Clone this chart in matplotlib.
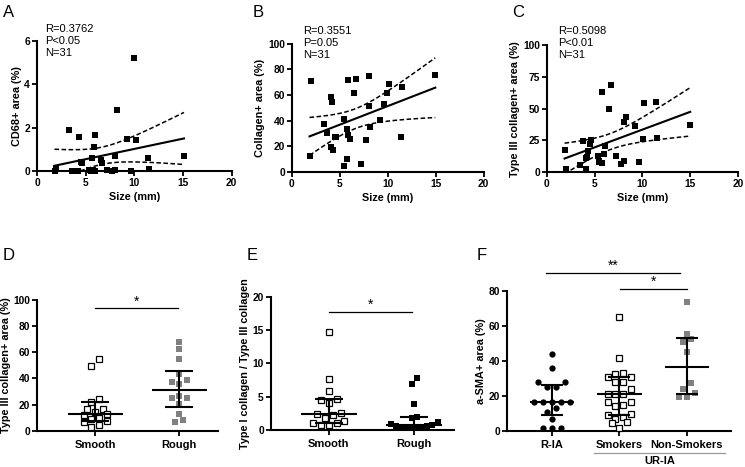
import numpy as np
import matplotlib
matplotlib.use("Agg")
import matplotlib.pyplot as plt

plt.rcParams["font.family"] = ["Liberation Sans", "DejaVu Sans"]

W, H = 745, 467

# --- data ---
# A: CD68+ area vs size
a_size = [10.0, 8.2, 3.28, 4.28, 6.0, 5.9, 9.24, 10.17, 7.97, 4.55, 5.69, 6.55, 6.72,
          11.45, 15.1, 1.97, 1.8, 3.62, 3.97, 4.2, 5.34, 5.55, 5.93, 7.24, 7.7, 8.03,
          9.66, 11.55, 5.8, 4.0, 4.6]
a_cd68 = [5.2, 2.8, 1.91, 1.6, 1.69, 1.11, 1.49, 1.42, 0.71, 0.45, 0.6, 0.51, 0.38,
          0.6, 0.71, 0.17, 0.0, 0.0, 0.0, 0.0, 0.08, 0.0, 0.0, 0.08, 0.0, 0.08,
          0.0, 0.1, 0.04, 0.0, 0.4]
a_stats = "R=0.3762\nP<0.05\nN=31"

# B: collagen+ area vs size
b_size = [2.02, 1.85, 4.07, 4.24, 3.37, 3.72, 4.07, 4.31, 4.58, 4.5, 5.41, 5.73, 5.9,
          6.04, 5.86, 6.73, 6.52, 8.01, 8.01, 8.18, 7.7, 5.73, 5.41, 7.18, 9.19, 9.6,
          10.12, 9.98, 11.47, 11.4, 14.97]
b_collagen = [70.9, 12.5, 58.2, 54.8, 37.4, 30.1, 19.7, 17.1, 27.5, 27.0, 41.0, 33.2, 28.8,
              25.7, 71.7, 72.7, 61.8, 75.1, 51.7, 34.8, 24.7, 9.9, 4.9, 6.2, 40.5, 53.0,
              68.8, 61.8, 66.2, 27.3, 75.3]
b_stats = "R=0.3551\nP=0.05\nN=31"

# C: type III collagen+ area vs size
c_size = [1.86, 2.04, 3.43, 3.78, 4.06, 4.06, 4.2, 4.3, 4.48, 4.62, 5.38, 5.45, 5.77,
          5.94, 6.05, 5.77, 6.71, 6.53, 7.26, 7.72, 8.03, 8.03, 8.24, 9.22, 9.6, 10.05,
          10.16, 11.41, 11.52, 15.0, 5.5]
c_col3 = [17.1, 2.1, 5.3, 24.5, 2.1, 10.8, 12.1, 16.8, 22.1, 25.3, 12.6, 7.9, 7.4,
          14.2, 20.8, 62.9, 68.9, 49.7, 12.9, 6.6, 8.9, 39.5, 43.4, 36.1, 7.9, 26.1,
          54.7, 55.3, 26.6, 37.1, 8.5]
c_stats = "R=0.5098\nP<0.01\nN=31"

# D: type III collagen by surface
d_groups = ["Smooth", "Rough"]
d_smooth = [49.4, 54.5, 21.9, 24.2, 16.8, 16.8, 14.2, 12.5, 11.7, 9.9, 8.7, 6.9, 7.6, 4.1, 2.8]
d_rough = [68.2, 62.3, 55.0, 43.0, 36.9, 35.6, 38.9, 25.4, 24.9, 26.2, 20.4, 12.5, 8.4, 6.4]

# E: type I / type III ratio by surface
e_groups = ["Smooth", "Rough"]
e_smooth = [14.65, 7.7, 5.9, 4.6, 4.5, 4.0, 2.35, 2.25, 2.5, 1.3, 1.0, 0.7, 0.75, 1.1, 1.85]
e_rough = [7.8, 6.85, 3.95, 1.95, 1.75, 1.15, 0.75, 0.6, 0.5, 0.45, 0.45, 0.45, 0.5, 0.6, 0.9]

# F: a-SMA+ area
f_groups = ["R-IA", "Smokers", "Non-Smokers"]
f_ria = [43.7, 36.0, 28.1, 28.1, 24.9, 24.9, 16.3, 16.3, 16.3, 16.3, 16.3, 12.9, 11.1,
         6.7, 1.5, 1.5, 1.5]
f_smokers = [64.8, 41.4, 32.3, 30.8, 32.9, 30.8, 28.1, 28.1, 24.0, 20.9, 20.9, 20.9, 16.7,
             14.4, 14.8, 16.7, 9.1, 8.0, 9.7, 5.3, 6.8, 4.8, 1.9]
f_nonsmokers = [73.8, 55.1, 52.3, 44.9, 27.6, 21.7, 24.0, 19.2, 19.2, 51.0]

T_CRIT = 2.045  # t(0.975, df=29)
GRAY = "#808080"


def rect(l, r, top, bottom):
    return [l / W, 1 - bottom / H, (r - l) / W, (bottom - top) / H]


def style(ax):
    for s in ["top", "right"]:
        ax.spines[s].set_visible(False)
    for s in ["left", "bottom"]:
        ax.spines[s].set_linewidth(1.5)
    ax.tick_params(width=1.3, length=3.5, labelsize=7.4, pad=1.5)


def reg_panel(ax, x, y, ylim, yticks, ylabel, stats, stats_pos):
    x = np.asarray(x)
    y = np.asarray(y)
    ax.plot(x, y, "s", color="black", ms=3.8, mew=0, clip_on=False, zorder=3)
    # linear fit with 95% confidence band
    b1, b0 = np.polyfit(x, y, 1)
    n = len(x)
    resid = y - (b0 + b1 * x)
    s = np.sqrt(np.sum(resid ** 2) / (n - 2))
    sxx = np.sum((x - x.mean()) ** 2)
    xs = np.linspace(x.min(), x.max(), 200)
    yfit = b0 + b1 * xs
    half = T_CRIT * s * np.sqrt(1 / n + (xs - x.mean()) ** 2 / sxx)
    ax.plot(xs, yfit, color="black", lw=1.5)
    ax.plot(xs, yfit + half, color="black", lw=1.1, dashes=(3, 1.6))
    ax.plot(xs, yfit - half, color="black", lw=1.1, dashes=(3, 1.6))
    ax.set_xlim(0, 20)
    ax.set_ylim(*ylim)
    ax.set_xticks([0, 5, 10, 15, 20], ["0", "5", "10", "15", "20"], fontweight="bold")
    ax.set_yticks(yticks, [str(t) for t in yticks], fontweight="bold")
    ax.set_xlabel("Size (mm)", fontweight="bold", fontsize=7.8, labelpad=3)
    ax.set_ylabel(ylabel, fontweight="bold", fontsize=7.8, labelpad=2)
    ax.text(stats_pos[0], stats_pos[1], stats, transform=ax.transAxes, ha="left",
            va="top", fontsize=8, linespacing=1.25, clip_on=False)
    style(ax)


def swarm(vals, ax_w, ax_h, xrange, yrange, spacing_px, row_px):
    # group points into rows of similar height and spread each row sideways
    vals = np.asarray(vals, dtype=float)
    ypx = vals / yrange * ax_h
    order = np.argsort(vals, kind="stable")
    rows = [[order[0]]]
    for i in order[1:]:
        if ypx[i] - ypx[rows[-1][0]] < row_px:
            rows[-1].append(i)
        else:
            rows.append([i])
    offs = np.zeros(len(vals))
    for r in rows:
        m = len(r)
        slots = sorted(range(m), key=lambda j: (abs(j - (m - 1) / 2), j))
        for idx, j in zip(r, slots):
            offs[idx] = (j - (m - 1) / 2) * spacing_px * xrange / ax_w
    return offs


def cat_panel(ax, box, groups, datas, styles, ylim, yticks, ylabel, xlim):
    ax_w = box[2] * W
    ax_h = box[3] * H
    for i, (vals, st) in enumerate(zip(datas, styles)):
        offs = swarm(vals, ax_w, ax_h, xlim[1] - xlim[0], ylim[1] - ylim[0],
                     st["space"], st["row"])
        ax.plot(i + offs, vals, st["marker"], ms=st["ms"], mfc=st["fc"], mec=st["ec"],
                mew=st["mew"], ls="none", clip_on=False, zorder=3)
        med = np.median(vals)
        q1, q3 = np.percentile(vals, [25, 75], method="weibull")
        ax.hlines(med, i - 0.33, i + 0.33, color="black", lw=1.5, zorder=4)
        ax.vlines(i, q1, q3, color="black", lw=1.5, zorder=4)
        ax.hlines([q1, q3], i - 0.165, i + 0.165, color="black", lw=1.5, zorder=4)
    ax.set_xlim(*xlim)
    ax.set_ylim(*ylim)
    ax.set_xticks(range(len(groups)), groups, fontweight="bold")
    ax.set_yticks(yticks, [str(t) for t in yticks], fontweight="bold")
    ax.set_ylabel(ylabel, fontweight="bold", fontsize=7.8, labelpad=2)
    style(ax)
    ax.tick_params(axis="x", labelsize=8, pad=3)


def sig(ax, x0, x1, y, txt):
    ax.plot([x0, x1], [y, y], color="black", lw=0.9, clip_on=False)
    ax.text((x0 + x1) / 2, y, txt, ha="center", va="bottom", fontsize=10, clip_on=False)


open_sq = dict(marker="s", ms=3.8, fc="white", ec="black", mew=0.9, space=7.8, row=7)
gray_sq = dict(marker="s", ms=4.1, fc=GRAY, ec=GRAY, mew=0, space=7.8, row=7)
black_sq = dict(marker="s", ms=3.9, fc="black", ec="black", mew=0, space=5.2, row=7)
black_ci = dict(marker="o", ms=4.5, fc="black", ec="black", mew=0, space=9, row=6)

fig = plt.figure(figsize=(W / 100, H / 100), dpi=100)

axA = fig.add_axes(rect(37, 231.7, 41, 171.3))
reg_panel(axA, a_size, a_cd68, (0, 6), [0, 2, 4, 6], "CD68+ area (%)", a_stats, (0.042, 1.13))

axB = fig.add_axes(rect(291.8, 483.5, 43.7, 172))
reg_panel(axB, b_size, b_collagen, (0, 100), [0, 20, 40, 60, 80, 100],
          "Collagen+ area (%)", b_stats, (0.06, 1.135))

axC = fig.add_axes(rect(546.8, 738, 45.3, 172))
reg_panel(axC, c_size, c_col3, (0, 100), [0, 25, 50, 75, 100],
          "Type III collagen+ area (%)", c_stats, (0.06, 1.15))

boxD = rect(37.3, 218, 300, 430.7)
axD = fig.add_axes(boxD)
cat_panel(axD, boxD, d_groups, [d_smooth, d_rough], [open_sq, gray_sq], (0, 100),
          [0, 20, 40, 60, 80, 100], "Type III collagen+ area (%)", (-0.69, 1.46))
sig(axD, 0, 0.98, 93.6, "*")

boxE = rect(270.7, 454, 296.7, 430)
axE = fig.add_axes(boxE)
cat_panel(axE, boxE, e_groups, [e_smooth, e_rough], [open_sq, black_sq], (0, 20),
          [0, 5, 10, 15, 20], "Type I collagen / Type III collagen", (-0.68, 1.465))
sig(axE, 0, 0.97, 17.75, "*")

boxF = rect(507.3, 730.7, 290.7, 431)
axF = fig.add_axes(boxF)
cat_panel(axF, boxF, f_groups, [f_ria, f_smokers, f_nonsmokers], [black_ci, open_sq, gray_sq],
          (0, 80), [0, 20, 40, 60, 80], "a-SMA+ area (%)", (-0.66, 2.65))
sig(axF, -0.08, 1.9, 90, "**")
sig(axF, 1.01, 2.0, 81, "*")
trF = axF.get_xaxis_transform()
axF.plot([0.63, 2.57], [-0.155, -0.155], color="#999999", lw=0.9, transform=trF, clip_on=False)
axF.text(1.6, -0.175, "UR-IA", transform=trF, ha="center", va="top", fontsize=8,
         fontweight="bold")

for lab, (px, py) in zip("ABCDEF", [(3, 5), (253, 5), (512, 5), (3, 248), (247, 248), (477, 248)]):
    fig.text(px / W, 1 - py / H, lab, fontsize=12, ha="left", va="top")

fig.savefig("out.png", dpi=100)
